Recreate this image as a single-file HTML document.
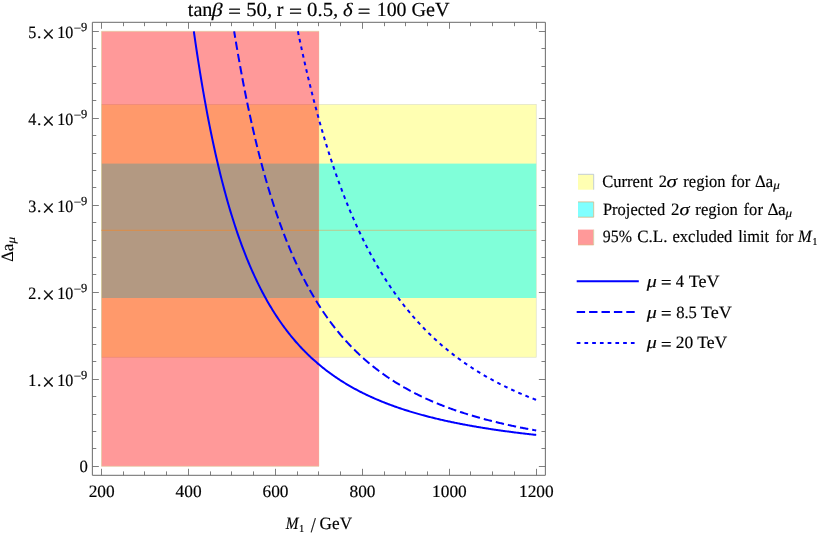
<!DOCTYPE html>
<html><head><meta charset="utf-8"><title>plot</title>
<style>
html,body{margin:0;padding:0;background:#fff;}
body{width:817px;height:534px;overflow:hidden;}
svg{display:block;}
text{font-family:"Liberation Serif",serif;font-size:17px;fill:#000;text-rendering:geometricPrecision;stroke:#000;stroke-width:0.18px;}
.i{font-style:italic;}
.eq{stroke:#000;stroke-width:0.35px;}
</style></head><body>
<svg width="817" height="534" viewBox="0 0 817 534">
<rect width="817" height="534" fill="#fff"/>
<!-- regions -->
<rect x="101.50" y="104.55" width="434.70" height="252.65" fill="#ffffb2" stroke="#d9dcc0" stroke-width="0.6"/>
<rect x="101.50" y="163.60" width="434.70" height="134.40" fill="#80ffd9"/>
<rect x="101.50" y="31.30" width="217.50" height="435.00" fill="#ff0000" fill-opacity="0.4"/>
<path d="M319.00 31.30H101.50V466.30H319.00" fill="none" stroke="#dccb98" stroke-width="0.6"/>
<path d="M319.00 31.30V466.30" fill="none" stroke="#dccb98" stroke-width="0.3"/>
<line x1="101.50" x2="319.00" y1="230.3" y2="230.3" stroke="#dc8c46" stroke-width="1"/>
<line x1="319.00" x2="536.20" y1="230.3" y2="230.3" stroke="#c8bc7c" stroke-width="0.8"/>
<!-- curves -->
<g fill="none" stroke="#0000ff" stroke-width="2">
<path d="M193.84 31.30 L193.87 31.52 L194.74 37.64 L195.61 43.63 L196.48 49.51 L197.35 55.27 L198.22 60.92 L199.09 66.47 L199.96 71.90 L200.83 77.24 L201.70 82.47 L202.57 87.60 L203.44 92.64 L204.31 97.58 L205.18 102.43 L206.05 107.19 L206.91 111.86 L207.78 116.45 L208.65 120.95 L209.52 125.37 L210.39 129.71 L211.26 133.98 L212.13 138.16 L213.00 142.28 L213.87 146.31 L214.74 150.28 L215.61 154.18 L216.48 158.01 L217.35 161.77 L218.22 165.47 L219.09 169.10 L219.96 172.67 L220.83 176.18 L221.69 179.63 L222.56 183.02 L223.43 186.36 L224.30 189.63 L225.17 192.86 L226.04 196.03 L226.91 199.14 L227.78 202.21 L228.65 205.22 L229.52 208.19 L230.39 211.11 L231.26 213.97 L232.13 216.80 L233.00 219.57 L233.87 222.31 L234.74 225.00 L235.60 227.64 L236.47 230.25 L237.34 232.81 L238.21 235.33 L239.08 237.82 L239.95 240.26 L240.82 242.67 L241.69 245.04 L242.56 247.37 L243.43 249.67 L244.30 251.93 L245.17 254.16 L246.04 256.36 L246.91 258.52 L247.78 260.65 L248.65 262.75 L249.52 264.81 L250.38 266.85 L251.25 268.85 L252.12 270.83 L252.99 272.77 L253.86 274.69 L254.73 276.58 L255.60 278.45 L256.47 280.28 L257.34 282.09 L258.21 283.88 L259.08 285.63 L259.95 287.37 L260.82 289.08 L261.69 290.76 L262.56 292.42 L263.43 294.06 L264.30 295.68 L265.16 297.27 L266.03 298.84 L266.90 300.39 L267.77 301.92 L268.64 303.42 L269.51 304.91 L270.38 306.38 L271.25 307.82 L272.12 309.25 L272.99 310.66 L273.86 312.05 L274.73 313.42 L275.60 314.77 L276.47 316.10 L277.34 317.42 L278.21 318.72 L279.07 320.00 L279.94 321.27 L280.81 322.52 L281.68 323.75 L282.55 324.97 L283.42 326.17 L284.29 327.35 L285.16 328.53 L286.03 329.68 L286.90 330.82 L287.77 331.95 L288.64 333.06 L289.51 334.16 L290.38 335.25 L291.25 336.32 L292.12 337.38 L292.99 338.42 L293.85 339.46 L294.72 340.48 L295.59 341.48 L296.46 342.48 L297.33 343.46 L298.20 344.43 L299.07 345.39 L299.94 346.34 L300.81 347.28 L301.68 348.20 L302.55 349.12 L303.42 350.02 L304.29 350.91 L305.16 351.79 L306.03 352.67 L306.90 353.53 L307.77 354.38 L308.63 355.22 L309.50 356.05 L310.37 356.87 L311.24 357.69 L312.11 358.49 L312.98 359.29 L313.85 360.07 L314.72 360.85 L315.59 361.61 L316.46 362.37 L317.33 363.12 L318.20 363.87 L319.07 364.60 L319.94 365.32 L320.81 366.04 L321.68 366.75 L322.54 367.45 L323.41 368.15 L324.28 368.83 L325.15 369.51 L326.02 370.18 L326.89 370.85 L327.76 371.50 L328.63 372.15 L329.50 372.80 L330.37 373.43 L331.24 374.06 L332.11 374.68 L332.98 375.30 L333.85 375.91 L334.72 376.51 L335.59 377.11 L336.46 377.70 L337.32 378.28 L338.19 378.86 L339.06 379.43 L339.93 380.00 L340.80 380.56 L341.67 381.11 L342.54 381.66 L343.41 382.20 L344.28 382.74 L345.15 383.27 L346.02 383.80 L346.89 384.32 L347.76 384.84 L348.63 385.35 L349.50 385.85 L350.37 386.35 L351.24 386.85 L352.10 387.34 L352.97 387.82 L353.84 388.30 L354.71 388.78 L355.58 389.25 L356.45 389.72 L357.32 390.18 L358.19 390.64 L359.06 391.09 L359.93 391.54 L360.80 391.99 L361.67 392.43 L362.54 392.86 L363.41 393.29 L364.28 393.72 L365.15 394.14 L366.01 394.56 L366.88 394.98 L367.75 395.39 L368.62 395.80 L369.49 396.20 L370.36 396.60 L371.23 397.00 L372.10 397.39 L372.97 397.78 L373.84 398.17 L374.71 398.55 L375.58 398.93 L376.45 399.30 L377.32 399.67 L378.19 400.04 L379.06 400.41 L379.93 400.77 L380.79 401.12 L381.66 401.48 L382.53 401.83 L383.40 402.18 L384.27 402.53 L385.14 402.87 L386.01 403.21 L386.88 403.54 L387.75 403.88 L388.62 404.21 L389.49 404.53 L390.36 404.86 L391.23 405.18 L392.10 405.50 L392.97 405.81 L393.84 406.13 L394.71 406.44 L395.57 406.74 L396.44 407.05 L397.31 407.35 L398.18 407.65 L399.05 407.95 L399.92 408.24 L400.79 408.54 L401.66 408.83 L402.53 409.11 L403.40 409.40 L404.27 409.68 L405.14 409.96 L406.01 410.24 L406.88 410.51 L407.75 410.79 L408.62 411.06 L409.48 411.33 L410.35 411.59 L411.22 411.86 L412.09 412.12 L412.96 412.38 L413.83 412.63 L414.70 412.89 L415.57 413.14 L416.44 413.39 L417.31 413.64 L418.18 413.89 L419.05 414.14 L419.92 414.38 L420.79 414.62 L421.66 414.86 L422.53 415.10 L423.40 415.33 L424.26 415.57 L425.13 415.80 L426.00 416.03 L426.87 416.26 L427.74 416.48 L428.61 416.71 L429.48 416.93 L430.35 417.15 L431.22 417.37 L432.09 417.59 L432.96 417.80 L433.83 418.02 L434.70 418.23 L435.57 418.44 L436.44 418.65 L437.31 418.86 L438.18 419.06 L439.04 419.27 L439.91 419.47 L440.78 419.67 L441.65 419.87 L442.52 420.07 L443.39 420.26 L444.26 420.46 L445.13 420.65 L446.00 420.85 L446.87 421.04 L447.74 421.23 L448.61 421.41 L449.48 421.60 L450.35 421.79 L451.22 421.97 L452.09 422.15 L452.95 422.33 L453.82 422.51 L454.69 422.69 L455.56 422.87 L456.43 423.04 L457.30 423.22 L458.17 423.39 L459.04 423.56 L459.91 423.73 L460.78 423.90 L461.65 424.07 L462.52 424.24 L463.39 424.40 L464.26 424.57 L465.13 424.73 L466.00 424.89 L466.87 425.06 L467.73 425.22 L468.60 425.37 L469.47 425.53 L470.34 425.69 L471.21 425.84 L472.08 426.00 L472.95 426.15 L473.82 426.30 L474.69 426.45 L475.56 426.60 L476.43 426.75 L477.30 426.90 L478.17 427.05 L479.04 427.19 L479.91 427.34 L480.78 427.48 L481.65 427.63 L482.51 427.77 L483.38 427.91 L484.25 428.05 L485.12 428.19 L485.99 428.33 L486.86 428.46 L487.73 428.60 L488.60 428.73 L489.47 428.87 L490.34 429.00 L491.21 429.14 L492.08 429.27 L492.95 429.40 L493.82 429.53 L494.69 429.66 L495.56 429.78 L496.42 429.91 L497.29 430.04 L498.16 430.16 L499.03 430.29 L499.90 430.41 L500.77 430.54 L501.64 430.66 L502.51 430.78 L503.38 430.90 L504.25 431.02 L505.12 431.14 L505.99 431.26 L506.86 431.38 L507.73 431.49 L508.60 431.61 L509.47 431.72 L510.34 431.84 L511.20 431.95 L512.07 432.07 L512.94 432.18 L513.81 432.29 L514.68 432.40 L515.55 432.51 L516.42 432.62 L517.29 432.73 L518.16 432.84 L519.03 432.94 L519.90 433.05 L520.77 433.16 L521.64 433.26 L522.51 433.37 L523.38 433.47 L524.25 433.58 L525.12 433.68 L525.98 433.78 L526.85 433.88 L527.72 433.98 L528.59 434.08 L529.46 434.18 L530.33 434.28 L531.20 434.38 L532.07 434.48 L532.94 434.58 L533.81 434.67 L534.68 434.77 L535.55 434.86 L536.20 434.93"/>
<path d="M234.15 31.30 L234.30 32.23 L235.17 37.53 L236.04 42.74 L236.91 47.86 L237.78 52.91 L238.65 57.87 L239.52 62.74 L240.39 67.54 L241.26 72.27 L242.13 76.91 L242.99 81.49 L243.86 85.99 L244.73 90.42 L245.60 94.78 L246.47 99.07 L247.34 103.29 L248.21 107.44 L249.08 111.54 L249.95 115.57 L250.82 119.53 L251.69 123.44 L252.56 127.28 L253.43 131.07 L254.30 134.80 L255.17 138.47 L256.04 142.09 L256.91 145.65 L257.77 149.16 L258.64 152.62 L259.51 156.03 L260.38 159.38 L261.25 162.69 L262.12 165.95 L262.99 169.16 L263.86 172.32 L264.73 175.43 L265.60 178.51 L266.47 181.53 L267.34 184.52 L268.21 187.46 L269.08 190.36 L269.95 193.21 L270.82 196.03 L271.69 198.81 L272.55 201.55 L273.42 204.25 L274.29 206.91 L275.16 209.53 L276.03 212.12 L276.90 214.67 L277.77 217.19 L278.64 219.68 L279.51 222.12 L280.38 224.54 L281.25 226.92 L282.12 229.27 L282.99 231.59 L283.86 233.88 L284.73 236.13 L285.60 238.36 L286.46 240.56 L287.33 242.73 L288.20 244.86 L289.07 246.98 L289.94 249.06 L290.81 251.11 L291.68 253.14 L292.55 255.14 L293.42 257.12 L294.29 259.07 L295.16 261.00 L296.03 262.90 L296.90 264.78 L297.77 266.63 L298.64 268.46 L299.51 270.26 L300.38 272.05 L301.24 273.81 L302.11 275.55 L302.98 277.26 L303.85 278.96 L304.72 280.63 L305.59 282.29 L306.46 283.92 L307.33 285.53 L308.20 287.12 L309.07 288.70 L309.94 290.25 L310.81 291.79 L311.68 293.30 L312.55 294.80 L313.42 296.28 L314.29 297.75 L315.16 299.19 L316.02 300.62 L316.89 302.03 L317.76 303.42 L318.63 304.80 L319.50 306.16 L320.37 307.51 L321.24 308.84 L322.11 310.15 L322.98 311.45 L323.85 312.74 L324.72 314.00 L325.59 315.26 L326.46 316.50 L327.33 317.72 L328.20 318.94 L329.07 320.13 L329.93 321.32 L330.80 322.49 L331.67 323.65 L332.54 324.79 L333.41 325.92 L334.28 327.04 L335.15 328.15 L336.02 329.24 L336.89 330.32 L337.76 331.39 L338.63 332.45 L339.50 333.50 L340.37 334.53 L341.24 335.55 L342.11 336.57 L342.98 337.57 L343.85 338.56 L344.71 339.54 L345.58 340.51 L346.45 341.47 L347.32 342.41 L348.19 343.35 L349.06 344.28 L349.93 345.20 L350.80 346.11 L351.67 347.01 L352.54 347.90 L353.41 348.78 L354.28 349.65 L355.15 350.51 L356.02 351.36 L356.89 352.21 L357.76 353.04 L358.63 353.87 L359.49 354.69 L360.36 355.49 L361.23 356.30 L362.10 357.09 L362.97 357.87 L363.84 358.65 L364.71 359.42 L365.58 360.18 L366.45 360.93 L367.32 361.68 L368.19 362.42 L369.06 363.15 L369.93 363.87 L370.80 364.59 L371.67 365.30 L372.54 366.00 L373.40 366.70 L374.27 367.39 L375.14 368.07 L376.01 368.74 L376.88 369.41 L377.75 370.07 L378.62 370.73 L379.49 371.38 L380.36 372.02 L381.23 372.66 L382.10 373.29 L382.97 373.91 L383.84 374.53 L384.71 375.14 L385.58 375.75 L386.45 376.35 L387.32 376.95 L388.18 377.54 L389.05 378.12 L389.92 378.70 L390.79 379.27 L391.66 379.84 L392.53 380.40 L393.40 380.96 L394.27 381.51 L395.14 382.06 L396.01 382.60 L396.88 383.14 L397.75 383.67 L398.62 384.19 L399.49 384.72 L400.36 385.23 L401.23 385.75 L402.10 386.26 L402.96 386.76 L403.83 387.26 L404.70 387.75 L405.57 388.24 L406.44 388.73 L407.31 389.21 L408.18 389.69 L409.05 390.16 L409.92 390.63 L410.79 391.09 L411.66 391.55 L412.53 392.01 L413.40 392.46 L414.27 392.91 L415.14 393.35 L416.01 393.79 L416.87 394.23 L417.74 394.66 L418.61 395.09 L419.48 395.51 L420.35 395.94 L421.22 396.35 L422.09 396.77 L422.96 397.18 L423.83 397.59 L424.70 397.99 L425.57 398.39 L426.44 398.79 L427.31 399.18 L428.18 399.57 L429.05 399.96 L429.92 400.34 L430.79 400.72 L431.65 401.10 L432.52 401.47 L433.39 401.84 L434.26 402.21 L435.13 402.58 L436.00 402.94 L436.87 403.30 L437.74 403.65 L438.61 404.00 L439.48 404.35 L440.35 404.70 L441.22 405.05 L442.09 405.39 L442.96 405.73 L443.83 406.06 L444.70 406.40 L445.57 406.73 L446.43 407.05 L447.30 407.38 L448.17 407.70 L449.04 408.02 L449.91 408.34 L450.78 408.65 L451.65 408.97 L452.52 409.28 L453.39 409.58 L454.26 409.89 L455.13 410.19 L456.00 410.49 L456.87 410.79 L457.74 411.09 L458.61 411.38 L459.48 411.67 L460.34 411.96 L461.21 412.24 L462.08 412.53 L462.95 412.81 L463.82 413.09 L464.69 413.37 L465.56 413.64 L466.43 413.92 L467.30 414.19 L468.17 414.46 L469.04 414.73 L469.91 414.99 L470.78 415.25 L471.65 415.52 L472.52 415.77 L473.39 416.03 L474.26 416.29 L475.12 416.54 L475.99 416.79 L476.86 417.04 L477.73 417.29 L478.60 417.54 L479.47 417.78 L480.34 418.02 L481.21 418.26 L482.08 418.50 L482.95 418.74 L483.82 418.97 L484.69 419.21 L485.56 419.44 L486.43 419.67 L487.30 419.90 L488.17 420.12 L489.04 420.35 L489.90 420.57 L490.77 420.79 L491.64 421.02 L492.51 421.23 L493.38 421.45 L494.25 421.67 L495.12 421.88 L495.99 422.09 L496.86 422.30 L497.73 422.51 L498.60 422.72 L499.47 422.93 L500.34 423.13 L501.21 423.34 L502.08 423.54 L502.95 423.74 L503.81 423.94 L504.68 424.14 L505.55 424.33 L506.42 424.53 L507.29 424.72 L508.16 424.91 L509.03 425.11 L509.90 425.30 L510.77 425.48 L511.64 425.67 L512.51 425.86 L513.38 426.04 L514.25 426.23 L515.12 426.41 L515.99 426.59 L516.86 426.77 L517.73 426.95 L518.59 427.12 L519.46 427.30 L520.33 427.47 L521.20 427.65 L522.07 427.82 L522.94 427.99 L523.81 428.16 L524.68 428.33 L525.55 428.50 L526.42 428.67 L527.29 428.83 L528.16 429.00 L529.03 429.16 L529.90 429.32 L530.77 429.48 L531.64 429.64 L532.51 429.80 L533.37 429.96 L534.24 430.12 L535.11 430.27 L535.98 430.43 L536.20 430.47" stroke-dasharray="8.4 4" stroke-dashoffset="1.9"/>
<path d="M297.91 31.30 L297.98 31.64 L298.85 35.84 L299.72 40.00 L300.59 44.09 L301.46 48.14 L302.33 52.13 L303.20 56.07 L304.07 59.96 L304.94 63.80 L305.81 67.60 L306.68 71.34 L307.55 75.04 L308.42 78.69 L309.29 82.30 L310.16 85.86 L311.03 89.38 L311.89 92.85 L312.76 96.29 L313.63 99.67 L314.50 103.02 L315.37 106.33 L316.24 109.59 L317.11 112.82 L317.98 116.01 L318.85 119.16 L319.72 122.27 L320.59 125.34 L321.46 128.38 L322.33 131.38 L323.20 134.34 L324.07 137.27 L324.94 140.16 L325.81 143.02 L326.67 145.85 L327.54 148.64 L328.41 151.41 L329.28 154.13 L330.15 156.83 L331.02 159.50 L331.89 162.13 L332.76 164.74 L333.63 167.31 L334.50 169.85 L335.37 172.37 L336.24 174.86 L337.11 177.32 L337.98 179.75 L338.85 182.15 L339.72 184.53 L340.59 186.88 L341.45 189.20 L342.32 191.50 L343.19 193.77 L344.06 196.01 L344.93 198.24 L345.80 200.43 L346.67 202.61 L347.54 204.75 L348.41 206.88 L349.28 208.98 L350.15 211.06 L351.02 213.12 L351.89 215.15 L352.76 217.16 L353.63 219.15 L354.50 221.12 L355.36 223.07 L356.23 225.00 L357.10 226.90 L357.97 228.79 L358.84 230.65 L359.71 232.50 L360.58 234.33 L361.45 236.13 L362.32 237.92 L363.19 239.69 L364.06 241.44 L364.93 243.18 L365.80 244.89 L366.67 246.59 L367.54 248.27 L368.41 249.93 L369.28 251.58 L370.14 253.20 L371.01 254.82 L371.88 256.41 L372.75 257.99 L373.62 259.55 L374.49 261.10 L375.36 262.63 L376.23 264.15 L377.10 265.65 L377.97 267.13 L378.84 268.60 L379.71 270.06 L380.58 271.50 L381.45 272.93 L382.32 274.34 L383.19 275.74 L384.06 277.12 L384.92 278.50 L385.79 279.85 L386.66 281.20 L387.53 282.53 L388.40 283.85 L389.27 285.15 L390.14 286.45 L391.01 287.73 L391.88 289.00 L392.75 290.25 L393.62 291.50 L394.49 292.73 L395.36 293.95 L396.23 295.16 L397.10 296.36 L397.97 297.54 L398.83 298.72 L399.70 299.88 L400.57 301.03 L401.44 302.17 L402.31 303.31 L403.18 304.43 L404.05 305.54 L404.92 306.64 L405.79 307.73 L406.66 308.80 L407.53 309.87 L408.40 310.93 L409.27 311.98 L410.14 313.02 L411.01 314.05 L411.88 315.08 L412.75 316.09 L413.61 317.09 L414.48 318.08 L415.35 319.07 L416.22 320.04 L417.09 321.01 L417.96 321.97 L418.83 322.92 L419.70 323.86 L420.57 324.79 L421.44 325.72 L422.31 326.63 L423.18 327.54 L424.05 328.44 L424.92 329.34 L425.79 330.22 L426.66 331.10 L427.53 331.96 L428.39 332.83 L429.26 333.68 L430.13 334.53 L431.00 335.37 L431.87 336.20 L432.74 337.02 L433.61 337.84 L434.48 338.65 L435.35 339.45 L436.22 340.25 L437.09 341.04 L437.96 341.82 L438.83 342.60 L439.70 343.37 L440.57 344.13 L441.44 344.89 L442.30 345.64 L443.17 346.38 L444.04 347.12 L444.91 347.85 L445.78 348.58 L446.65 349.29 L447.52 350.01 L448.39 350.72 L449.26 351.42 L450.13 352.11 L451.00 352.80 L451.87 353.49 L452.74 354.16 L453.61 354.84 L454.48 355.51 L455.35 356.17 L456.22 356.82 L457.08 357.48 L457.95 358.12 L458.82 358.76 L459.69 359.40 L460.56 360.03 L461.43 360.65 L462.30 361.27 L463.17 361.89 L464.04 362.50 L464.91 363.10 L465.78 363.71 L466.65 364.30 L467.52 364.89 L468.39 365.48 L469.26 366.06 L470.13 366.64 L471.00 367.21 L471.86 367.78 L472.73 368.34 L473.60 368.90 L474.47 369.46 L475.34 370.01 L476.21 370.55 L477.08 371.10 L477.95 371.63 L478.82 372.17 L479.69 372.70 L480.56 373.22 L481.43 373.74 L482.30 374.26 L483.17 374.77 L484.04 375.28 L484.91 375.79 L485.77 376.29 L486.64 376.79 L487.51 377.28 L488.38 377.77 L489.25 378.26 L490.12 378.74 L490.99 379.22 L491.86 379.70 L492.73 380.17 L493.60 380.64 L494.47 381.10 L495.34 381.57 L496.21 382.02 L497.08 382.48 L497.95 382.93 L498.82 383.38 L499.69 383.82 L500.55 384.27 L501.42 384.70 L502.29 385.14 L503.16 385.57 L504.03 386.00 L504.90 386.42 L505.77 386.85 L506.64 387.27 L507.51 387.68 L508.38 388.10 L509.25 388.51 L510.12 388.91 L510.99 389.32 L511.86 389.72 L512.73 390.12 L513.60 390.51 L514.47 390.91 L515.33 391.30 L516.20 391.69 L517.07 392.07 L517.94 392.45 L518.81 392.83 L519.68 393.21 L520.55 393.58 L521.42 393.95 L522.29 394.32 L523.16 394.69 L524.03 395.05 L524.90 395.41 L525.77 395.77 L526.64 396.13 L527.51 396.48 L528.38 396.83 L529.24 397.18 L530.11 397.53 L530.98 397.87 L531.85 398.21 L532.72 398.55 L533.59 398.89 L534.46 399.22 L535.33 399.55 L536.20 399.88" stroke-dasharray="3.7 4.05"/>
</g>
<!-- frame -->
<rect x="92.37" y="22.3" width="453.00" height="453.00" fill="none" stroke="#6a6a6a" stroke-width="1" stroke-linejoin="round"/>
<path d="M101.50 475.3 v-6.5 M101.50 22.3 v6.5 M123.50 475.3 v-3.9 M123.50 22.3 v3.9 M144.50 475.3 v-3.9 M144.50 22.3 v3.9 M166.50 475.3 v-3.9 M166.50 22.3 v3.9 M188.50 475.3 v-6.5 M188.50 22.3 v6.5 M210.50 475.3 v-3.9 M210.50 22.3 v3.9 M231.50 475.3 v-3.9 M231.50 22.3 v3.9 M253.50 475.3 v-3.9 M253.50 22.3 v3.9 M275.50 475.3 v-6.5 M275.50 22.3 v6.5 M297.50 475.3 v-3.9 M297.50 22.3 v3.9 M318.50 475.3 v-3.9 M318.50 22.3 v3.9 M340.50 475.3 v-3.9 M340.50 22.3 v3.9 M362.50 475.3 v-6.5 M362.50 22.3 v6.5 M384.50 475.3 v-3.9 M384.50 22.3 v3.9 M405.50 475.3 v-3.9 M405.50 22.3 v3.9 M427.50 475.3 v-3.9 M427.50 22.3 v3.9 M449.50 475.3 v-6.5 M449.50 22.3 v6.5 M470.50 475.3 v-3.9 M470.50 22.3 v3.9 M492.50 475.3 v-3.9 M492.50 22.3 v3.9 M514.50 475.3 v-3.9 M514.50 22.3 v3.9 M536.50 475.3 v-6.5 M536.50 22.3 v6.5 M92.37 466.50 h6.5 M545.37 466.50 h-6.5 M92.37 448.50 h3.9 M545.37 448.50 h-3.9 M92.37 431.50 h3.9 M545.37 431.50 h-3.9 M92.37 414.50 h3.9 M545.37 414.50 h-3.9 M92.37 396.50 h3.9 M545.37 396.50 h-3.9 M92.37 379.50 h6.5 M545.37 379.50 h-6.5 M92.37 361.50 h3.9 M545.37 361.50 h-3.9 M92.37 344.50 h3.9 M545.37 344.50 h-3.9 M92.37 327.50 h3.9 M545.37 327.50 h-3.9 M92.37 309.50 h3.9 M545.37 309.50 h-3.9 M92.37 292.50 h6.5 M545.37 292.50 h-6.5 M92.37 274.50 h3.9 M545.37 274.50 h-3.9 M92.37 257.50 h3.9 M545.37 257.50 h-3.9 M92.37 240.50 h3.9 M545.37 240.50 h-3.9 M92.37 222.50 h3.9 M545.37 222.50 h-3.9 M92.37 205.50 h6.5 M545.37 205.50 h-6.5 M92.37 187.50 h3.9 M545.37 187.50 h-3.9 M92.37 170.50 h3.9 M545.37 170.50 h-3.9 M92.37 153.50 h3.9 M545.37 153.50 h-3.9 M92.37 135.50 h3.9 M545.37 135.50 h-3.9 M92.37 118.50 h6.5 M545.37 118.50 h-6.5 M92.37 100.50 h3.9 M545.37 100.50 h-3.9 M92.37 83.50 h3.9 M545.37 83.50 h-3.9 M92.37 66.50 h3.9 M545.37 66.50 h-3.9 M92.37 48.50 h3.9 M545.37 48.50 h-3.9 M92.37 31.50 h6.5 M545.37 31.50 h-6.5" fill="none" stroke="#686868" stroke-width="0.85"/>
<!-- legend -->
<rect x="578" y="174.3" width="15.7" height="15.4" fill="#ffffb2"/>
<path d="M578 174.3H593.7V189.7" fill="none" stroke="#a9b7d6" stroke-width="0.7"/>
<rect x="578" y="201.9" width="15.7" height="15.3" fill="#80ffff"/>
<path d="M578 201.9H593.7V217.2H578" fill="none" stroke="#dcae74" stroke-width="0.7"/>
<rect x="578" y="229.6" width="15.7" height="15.3" fill="#ff9999"/>
<path d="M593.7 229.6V244.9" fill="none" stroke="#c9dba4" stroke-width="0.7"/>
<path d="M593.7 244.9H578" fill="none" stroke="#dfa877" stroke-width="0.7"/>
<g fill="none" stroke="#0000ff" stroke-width="2">
<path d="M576.7 281.15H638.8"/>
<path d="M576.7 312.05H635.1" stroke-dasharray="8.4 4"/>
<path d="M576.7 342.95H634.7" stroke-dasharray="3.7 4.04"/>
</g>
<!-- text -->
<g opacity="0.999">
<text style="font-size:20px" transform="translate(187.80 15.55) scale(1.009 1)">tan</text>
<text class="i" style="font-size:19px" transform="translate(211.64 15.55) scale(1.153 1)">β</text>
<text class="eq" style="font-size:20px" transform="translate(228.13 17.55) scale(1.124 1)">=</text>
<text style="font-size:20px" transform="translate(246.18 15.55) scale(1.039 1)">50,</text>
<text style="font-size:20px" transform="translate(276.81 15.55) scale(1.000 1)">r</text>
<text class="eq" style="font-size:20px" transform="translate(289.09 17.55) scale(1.157 1)">=</text>
<text style="font-size:20px" transform="translate(307.07 15.55) scale(1.039 1)">0.5,</text>
<text class="i" style="font-size:19px" transform="translate(342.96 15.55) scale(1.088 1)">δ</text>
<text class="eq" style="font-size:20px" transform="translate(357.84 17.55) scale(1.114 1)">=</text>
<text style="font-size:20px" transform="translate(376.71 15.55) scale(0.993 1)">100</text>
<text style="font-size:20px" transform="translate(411.47 15.55) scale(1.010 1)">GeV</text>
<text class="i" style="font-size:17.33px" transform="translate(285.77 529.00) scale(0.884 1)">M</text>
<text style="font-size:10.5px" transform="translate(299.05 532.00) scale(1.000 1)">1</text>
<text style="font-size:21px" transform="translate(310.65 531.60) scale(0.870 1)">/</text>
<text style="font-size:17.33px" transform="translate(319.61 529.00) scale(0.992 1)">GeV</text>
<text style="font-size:17.33px" transform="translate(602.18 186.90) scale(0.957 1)">Current</text>
<text style="font-size:17.33px" transform="translate(658.69 186.90) scale(0.943 1)">2</text>
<text class="i" style="font-size:17.33px" transform="translate(666.49 186.90) scale(1.224 1)">σ</text>
<text style="font-size:17.33px" transform="translate(683.34 186.90) scale(0.954 1)">region</text>
<text style="font-size:17.33px" transform="translate(731.02 186.90) scale(0.954 1)">for</text>
<text style="font-size:17.33px" transform="translate(755.10 186.90) scale(0.962 1)">Δ</text>
<text style="font-size:17.33px" transform="translate(765.49 186.90) scale(1.000 1)">a</text>
<text class="i" style="font-size:12px" transform="translate(773.20 189.30) scale(1.084 1)">μ</text>
<text style="font-size:17.33px" transform="translate(602.92 214.60) scale(0.951 1)">Projected</text>
<text style="font-size:17.33px" transform="translate(670.97 214.60) scale(0.971 1)">2</text>
<text class="i" style="font-size:17.33px" transform="translate(679.51 214.60) scale(1.176 1)">σ</text>
<text style="font-size:17.33px" transform="translate(695.34 214.60) scale(0.960 1)">region</text>
<text style="font-size:17.33px" transform="translate(743.62 214.60) scale(0.954 1)">for</text>
<text style="font-size:17.33px" transform="translate(767.48 214.60) scale(0.992 1)">Δ</text>
<text style="font-size:17.33px" transform="translate(777.99 214.60) scale(1.000 1)">a</text>
<text class="i" style="font-size:12px" transform="translate(785.60 217.00) scale(1.084 1)">μ</text>
<text style="font-size:17.33px" transform="translate(602.83 242.30) scale(0.915 1)">95%</text>
<text style="font-size:17.33px" transform="translate(637.26 242.30) scale(0.980 1)">C.L.</text>
<text style="font-size:17.33px" transform="translate(672.40 242.30) scale(0.960 1)">excluded</text>
<text style="font-size:17.33px" transform="translate(738.15 242.30) scale(0.943 1)">limit</text>
<text style="font-size:17.33px" transform="translate(775.46 242.30) scale(0.887 1)">for</text>
<text class="i" style="font-size:17.33px" transform="translate(797.94 242.30) scale(0.948 1)">M</text>
<text style="font-size:10.5px" transform="translate(812.35 245.20) scale(1.000 1)">1</text>
<text class="i" style="font-size:17.33px" transform="translate(646.75 286.60) scale(1.157 1)">μ</text>
<text class="eq" style="font-size:17.33px" transform="translate(661.12 288.30) scale(1.063 1)">=</text>
<text style="font-size:17.33px" transform="translate(675.79 286.60) scale(0.950 1)">4</text>
<text style="font-size:17.33px" transform="translate(688.66 286.60) scale(1.041 1)">TeV</text>
<text class="i" style="font-size:17.33px" transform="translate(646.75 317.50) scale(1.157 1)">μ</text>
<text class="eq" style="font-size:17.33px" transform="translate(661.12 319.20) scale(1.063 1)">=</text>
<text style="font-size:17.33px" transform="translate(676.15 317.50) scale(0.957 1)">8.5</text>
<text style="font-size:17.33px" transform="translate(700.86 317.50) scale(1.045 1)">TeV</text>
<text class="i" style="font-size:17.33px" transform="translate(646.75 348.30) scale(1.157 1)">μ</text>
<text class="eq" style="font-size:17.33px" transform="translate(661.12 350.00) scale(1.063 1)">=</text>
<text style="font-size:17.33px" transform="translate(675.79 348.30) scale(1.008 1)">20</text>
<text style="font-size:17.33px" transform="translate(697.17 348.30) scale(1.017 1)">TeV</text>
<text style="font-size:17.33px" transform="translate(36.98 385.60) scale(1.000 1)">.</text>
<text style="font-size:24px" transform="translate(42.08 389.50) scale(0.944 1)">×</text>
<text style="font-size:17.33px" transform="translate(57.16 385.60) scale(0.926 1)">10</text>
<text style="font-size:12px" transform="translate(73.66 379.60) scale(1.109 1)">−</text>
<text style="font-size:12.5px" transform="translate(81.09 378.90) scale(1.000 1)">9</text>
<text style="font-size:17.33px" transform="translate(36.98 298.60) scale(1.000 1)">.</text>
<text style="font-size:24px" transform="translate(42.08 302.50) scale(0.944 1)">×</text>
<text style="font-size:17.33px" transform="translate(57.16 298.60) scale(0.926 1)">10</text>
<text style="font-size:12px" transform="translate(73.66 292.60) scale(1.109 1)">−</text>
<text style="font-size:12.5px" transform="translate(81.09 291.90) scale(1.000 1)">9</text>
<text style="font-size:17.33px" transform="translate(36.98 211.60) scale(1.000 1)">.</text>
<text style="font-size:24px" transform="translate(42.08 215.50) scale(0.944 1)">×</text>
<text style="font-size:17.33px" transform="translate(57.16 211.60) scale(0.926 1)">10</text>
<text style="font-size:12px" transform="translate(73.66 205.60) scale(1.109 1)">−</text>
<text style="font-size:12.5px" transform="translate(81.09 204.90) scale(1.000 1)">9</text>
<text style="font-size:17.33px" transform="translate(36.98 124.60) scale(1.000 1)">.</text>
<text style="font-size:24px" transform="translate(42.08 128.50) scale(0.944 1)">×</text>
<text style="font-size:17.33px" transform="translate(57.16 124.60) scale(0.926 1)">10</text>
<text style="font-size:12px" transform="translate(73.66 118.60) scale(1.109 1)">−</text>
<text style="font-size:12.5px" transform="translate(81.09 117.90) scale(1.000 1)">9</text>
<text style="font-size:17.33px" transform="translate(36.98 37.60) scale(1.000 1)">.</text>
<text style="font-size:24px" transform="translate(42.08 41.50) scale(0.944 1)">×</text>
<text style="font-size:17.33px" transform="translate(57.16 37.60) scale(0.926 1)">10</text>
<text style="font-size:12px" transform="translate(73.66 31.60) scale(1.109 1)">−</text>
<text style="font-size:12.5px" transform="translate(81.09 30.90) scale(1.000 1)">9</text>
<text style="font-size:17.33px" transform="translate(28.32 385.60) scale(0.929 1)">1</text>
<text style="font-size:17.33px" transform="translate(28.32 298.60) scale(0.929 1)">2</text>
<text style="font-size:17.33px" transform="translate(28.32 211.60) scale(0.929 1)">3</text>
<text style="font-size:17.33px" transform="translate(28.32 124.60) scale(0.929 1)">4</text>
<text style="font-size:17.33px" transform="translate(28.32 37.60) scale(0.929 1)">5</text>
<text style="font-size:17.33px" transform="translate(79.60 472.00) scale(0.963 1)">0</text>
<text style="font-size:17.33px" text-anchor="middle" transform="translate(101.65 496.7) scale(1.001 1)">200</text>
<text style="font-size:17.33px" text-anchor="middle" transform="translate(188.59 496.7) scale(1.001 1)">400</text>
<text style="font-size:17.33px" text-anchor="middle" transform="translate(275.53 496.7) scale(1.001 1)">600</text>
<text style="font-size:17.33px" text-anchor="middle" transform="translate(362.47 496.7) scale(1.001 1)">800</text>
<text style="font-size:17.33px" text-anchor="middle" transform="translate(449.41 496.7) scale(1.001 1)">1000</text>
<text style="font-size:17.33px" text-anchor="middle" transform="translate(536.35 496.7) scale(1.001 1)">1200</text>
<g transform="rotate(-90)">
<text style="font-size:17.2px" transform="translate(-261.75 12.70) scale(0.954 1)">Δ</text>
<text style="font-size:17.2px" transform="translate(-251.35 12.70) scale(1.000 1)">a</text>
<text class="i" style="font-size:12px" transform="translate(-243.55 15.00) scale(1.102 1)">μ</text>
</g>
</g>
</svg>
</body></html>
